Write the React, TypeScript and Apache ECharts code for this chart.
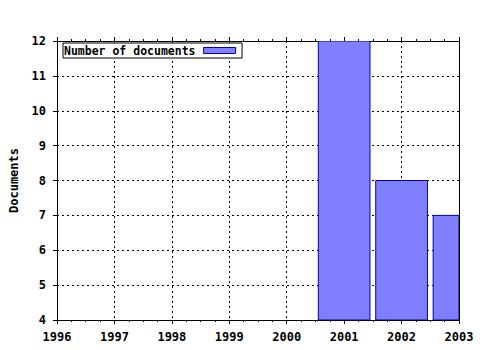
import React, { useEffect, useRef } from "react";
import * as echarts from "echarts";

const years = [2001, 2002, 2003];
const documents = [12, 8, 7];
const seriesName = "Number of documents";
const yName = "Documents";
const xMin = 1996;
const xMax = 2003;
const yMin = 4;
const yMax = 12;

const FONT = "'DejaVu Sans Mono', monospace";
const BAR_FILL = "#8080ff";
const BAR_EDGE = "#0000aa";
const BAR_YEARS = 0.9;

export default function App() {
  const ref = useRef<HTMLDivElement>(null);
  useEffect(() => {
    if (!ref.current) return;
    const chart = echarts.init(ref.current, undefined, { renderer: "svg" });
    const gridLine = { show: true, lineStyle: { color: "#000", type: [2, 3], width: 1 } };
    const commonX = {
      type: "value",
      min: xMin,
      max: xMax,
      interval: 1,
      axisLine: { show: true, onZero: false, lineStyle: { color: "#000", width: 1 } },
      axisTick: { show: true, length: 4, lineStyle: { color: "#000" } },
      minorTick: { show: true, splitNumber: 4, length: 2, lineStyle: { color: "#000" } },
    };
    chart.setOption({
      animation: false,
      backgroundColor: "#fff",
      grid: { left: 57, right: 21, top: 41, bottom: 30, containLabel: false, outerBoundsMode: "none" },
      legend: {
        left: 63,
        top: 43,
        align: "right",
        orient: "horizontal",
        backgroundColor: "#fff",
        borderColor: "#000",
        borderWidth: 1,
        borderRadius: 0,
        padding: [1, 6, 1, 1],
        itemWidth: 32,
        itemHeight: 6,
        itemGap: 0,
        textStyle: { fontFamily: FONT, fontWeight: "bold", fontSize: 11.5, color: "#000", lineHeight: 13, padding: [0, 3, 0, 0] },
        data: [{ name: seriesName, icon: "rect", itemStyle: { color: BAR_FILL, borderColor: BAR_EDGE, borderWidth: 1 } }],
      },
      xAxis: [
        {
          ...commonX,
          position: "bottom",
          splitLine: gridLine,
          axisLabel: { show: true, margin: 11, color: "#000", fontFamily: FONT, fontWeight: "bold", fontSize: 12, formatter: (v: number) => String(v) },
        },
        {
          ...commonX,
          position: "top",
          splitLine: { show: false },
          axisLabel: { show: false },
        },
      ],
      yAxis: [
        {
          type: "value",
          min: yMin,
          max: yMax,
          interval: 1,
          position: "left",
          name: yName,
          nameLocation: "middle",
          nameRotate: 90,
          nameGap: 37,
          nameTextStyle: { fontFamily: FONT, fontWeight: "bold", fontSize: 12, color: "#000" },
          axisLine: { show: true, onZero: false, lineStyle: { color: "#000", width: 1 } },
          axisTick: { show: true, length: 4, lineStyle: { color: "#000" } },
          splitLine: gridLine,
          axisLabel: { margin: 11, color: "#000", fontFamily: FONT, fontWeight: "bold", fontSize: 12 },
        },
        {
          type: "value",
          min: yMin,
          max: yMax,
          interval: 1,
          position: "right",
          axisLine: { show: true, onZero: false, lineStyle: { color: "#000", width: 1 } },
          axisTick: { show: false },
          splitLine: { show: false },
          axisLabel: { show: false },
        },
      ],
      series: [
        {
          name: seriesName,
          type: "custom",
          xAxisIndex: 0,
          yAxisIndex: 0,
          clip: true,
          itemStyle: { color: BAR_FILL, borderColor: BAR_EDGE, borderWidth: 1 },
          encode: { x: 0, y: 1 },
          renderItem: (params: any, api: any) => {
            const x = api.value(0);
            const y = api.value(1);
            const p0 = api.coord([x - BAR_YEARS / 2, y]);
            const p1 = api.coord([x + BAR_YEARS / 2, yMin]);
            const cs = params.coordSys;
            const shape = echarts.graphic.clipRectByRect(
              { x: p0[0], y: p0[1], width: p1[0] - p0[0], height: p1[1] - p0[1] },
              { x: cs.x, y: cs.y, width: cs.width, height: cs.height }
            );
            if (!shape) return null;
            return {
              type: "rect",
              shape,
              style: { fill: BAR_FILL, stroke: BAR_EDGE, lineWidth: 1 },
            };
          },
          data: years.map((y, i) => [y, documents[i]]),
        },
      ],
    });
    return () => chart.dispose();
  }, []);
  return <div ref={ref} style={{ width: 480, height: 350, position: "absolute", left: 0, top: 0 }} />;
}
